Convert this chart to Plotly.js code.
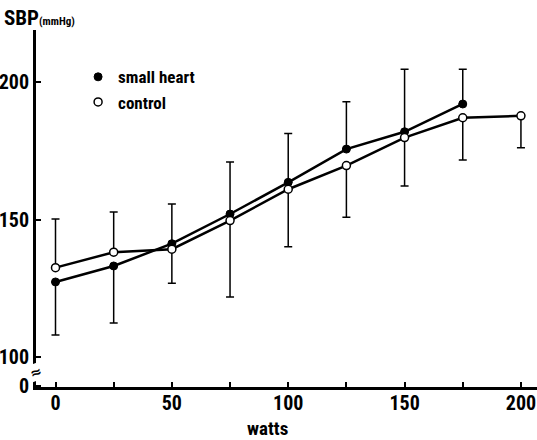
<!DOCTYPE html>
<html>
<head>
<meta charset="utf-8">
<script src="https://cdn.plot.ly/plotly-3.0.1.min.js"></script>
<style>html,body{margin:0;padding:0;background:#fff;}#chart{width:537px;height:440px;}</style>
</head>
<body>
<div id="chart"></div>
<script>
// Data
const smallHeartX = [0, 25, 50, 75, 100, 125, 150, 175];
const smallHeartSBP = [127.3, 133.1, 141.2, 152.0, 163.5, 175.6, 181.9, 192.0];
const smallHeartErrUp = [0, 0, 14.4, 18.9, 17.8, 17.2, 22.7, 12.6];
const smallHeartErrDown = [19.3, 20.7, 0, 0, 0, 0, 0, 0];

const controlX = [0, 25, 50, 75, 100, 125, 150, 175, 200];
const controlSBP = [132.5, 138.1, 139.2, 149.6, 161.0, 169.6, 179.8, 187.0, 187.7];
const controlErrUp = [17.7, 14.6, 0, 0, 0, 0, 0, 0, 0];
const controlErrDown = [0, 0, 12.4, 27.8, 20.9, 18.8, 17.6, 15.4, 11.6];

const xTickVals = [0, 25, 50, 75, 100, 125, 150, 175, 200];
const xTickText = ['0', '', '50', '', '100', '', '150', '', '200'];
const yTickVals = [89.5, 100, 150, 200];
const yTickText = ['0', '100', '150', '200'];

const FONT = '"Roboto Condensed", "Open Sans Condensed", "Liberation Sans", sans-serif';

const traces = [
  {x: smallHeartX, y: smallHeartSBP, mode: 'lines', line: {color: '#000', width: 2.5}, showlegend: false, hoverinfo: 'skip'},
  {x: controlX, y: controlSBP, mode: 'lines', line: {color: '#000', width: 2.5}, showlegend: false, hoverinfo: 'skip'},
  {x: smallHeartX, y: smallHeartSBP, mode: 'markers', name: 'small heart',
   marker: {symbol: 'circle', size: 8, color: '#000', line: {color: '#000', width: 1}},
   error_y: {type: 'data', symmetric: false, array: smallHeartErrUp, arrayminus: smallHeartErrDown, color: '#000', thickness: 1.5, width: 4}},
  {x: controlX, y: controlSBP, mode: 'markers', name: 'control',
   marker: {symbol: 'circle', size: 8, color: '#fff', line: {color: '#000', width: 1.5}},
   error_y: {type: 'data', symmetric: false, array: controlErrUp, arrayminus: controlErrDown, color: '#000', thickness: 1.5, width: 4}}
];

const layout = {
  width: 537, height: 440,
  margin: {l: 36, r: 0, t: 30, b: 53, pad: 0},
  paper_bgcolor: '#fff', plot_bgcolor: '#fff',
  font: {family: FONT, color: '#000', size: 18, weight: 700},
  showlegend: true,
  legend: {x: 0.084, y: 0.918, xanchor: 'left', yanchor: 'top', bgcolor: 'rgba(0,0,0,0)',
           font: {family: FONT, size: 17, weight: 700, color: '#000'}, itemwidth: 30, tracegroupgap: 0},
  xaxis: {range: [-8.38, 206.9], showgrid: false, zeroline: false, showline: true, linecolor: '#000', linewidth: 2.5,
          ticks: 'inside', ticklen: 5, tickwidth: 2, tickcolor: '#000', tickvals: xTickVals, ticktext: xTickText,
          ticklabeloverflow: 'allow', ticklabelstandoff: -4,
          tickfont: {family: FONT, size: 20, weight: 700, color: '#000'}, fixedrange: true},
  yaxis: {range: [89.1, 218.9], showgrid: false, zeroline: false, showline: true, linecolor: '#000', linewidth: 3,
          ticks: 'inside', ticklen: 5, tickwidth: 2, tickcolor: '#000', tickvals: yTickVals, ticktext: yTickText,
          ticklabeloverflow: 'allow',
          tickfont: {family: FONT, size: 20, weight: 700, color: '#000'}, fixedrange: true},
  annotations: [
    {xref: 'paper', yref: 'paper', x: -0.067, y: 1.034, xanchor: 'left', yanchor: 'middle', showarrow: false,
     text: 'SBP<span style="font-size:11px">(mmHg)</span>', font: {family: FONT, size: 21, weight: 700, color: '#000'}},
    {xref: 'paper', yref: 'paper', x: 0.463, y: -0.117, xanchor: 'center', yanchor: 'middle', showarrow: false,
     text: 'watts', font: {family: FONT, size: 19, weight: 700, color: '#000'}},
    {xref: 'paper', yref: 'y', x: 0, y: 94.5, xanchor: 'center', yanchor: 'middle', showarrow: false,
     text: '≈', textangle: -20, bgcolor: '#fff', borderpad: 0, font: {family: 'DejaVu Sans', size: 14, color: '#000'}}
  ]
};

Plotly.newPlot('chart', traces, layout, {displayModeBar: false, staticPlot: true});
</script>
</body>
</html>
